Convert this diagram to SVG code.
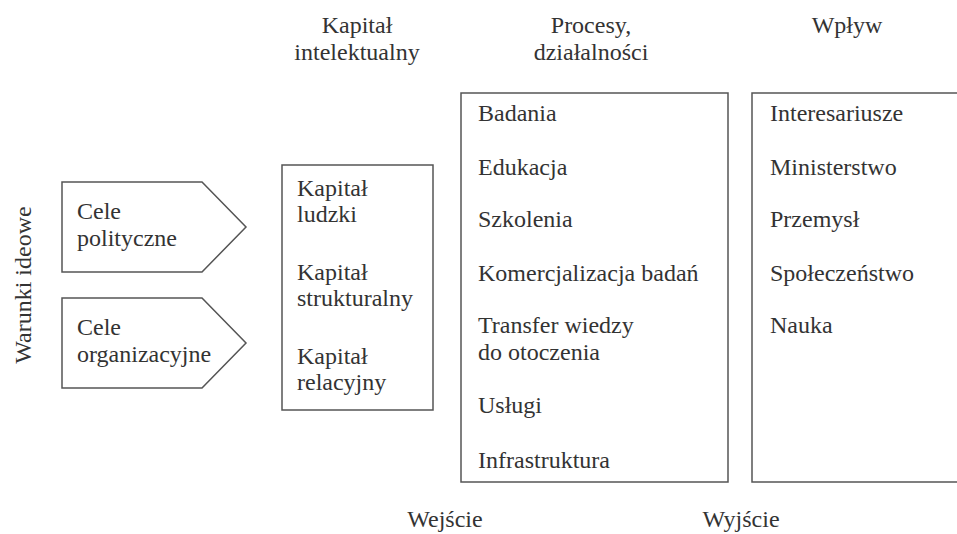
<svg xmlns="http://www.w3.org/2000/svg" width="957" height="534" viewBox="0 0 957 534">
<style>
  text { font-family: "Liberation Serif", "Times New Roman", serif; font-size: 24px; fill: #333; }
  .c { text-anchor: middle; }
  .shape { fill: #fff; stroke: #555; stroke-width: 1.5; }
</style>
<rect width="957" height="534" fill="#fff"/>
<g id="label-kapital-intelektualny">
  <text class="c" x="357" y="33">Kapitał</text>
  <text class="c" x="357" y="60">intelektualny</text>
</g>
<g id="label-procesy">
  <text class="c" x="591" y="33">Procesy,</text>
  <text class="c" x="591" y="60">działalności</text>
</g>
<g id="label-wplyw">
  <text class="c" x="847" y="33">Wpływ</text>
</g>
<g id="label-warunki">
  <text class="c" transform="translate(31,285) rotate(-90)">Warunki ideowe</text>
</g>
<g id="cele-polityczne">
  <polygon class="shape" points="62,182 202,182 246,227 202,272 62,272"/>
  <text x="77" y="219">Cele</text>
  <text x="77" y="246">polityczne</text>
</g>
<g id="cele-organizacyjne">
  <polygon class="shape" points="62,298 202,298 246,343 202,388 62,388"/>
  <text x="77" y="335">Cele</text>
  <text x="77" y="362">organizacyjne</text>
</g>
<g id="kapital">
  <rect class="shape" x="282" y="165" width="151" height="245"/>
  <text x="297" y="196">Kapitał</text>
  <text x="297" y="222">ludzki</text>
  <text x="297" y="280">Kapitał</text>
  <text x="297" y="306">strukturalny</text>
  <text x="297" y="364">Kapitał</text>
  <text x="297" y="390">relacyjny</text>
</g>
<g id="procesy">
  <rect class="shape" x="461" y="93" width="267" height="389"/>
  <text x="478" y="121">Badania</text>
  <text x="478" y="175">Edukacja</text>
  <text x="478" y="227">Szkolenia</text>
  <text x="478" y="281">Komercjalizacja badań</text>
  <text x="478" y="333">Transfer wiedzy</text>
  <text x="478" y="360">do otoczenia</text>
  <text x="478" y="413">Usługi</text>
  <text x="478" y="468">Infrastruktura</text>
</g>
<g id="wplyw">
  <rect class="shape" x="752" y="93" width="230" height="389"/>
  <text x="770" y="121">Interesariusze</text>
  <text x="770" y="175">Ministerstwo</text>
  <text x="770" y="227">Przemysł</text>
  <text x="770" y="281">Społeczeństwo</text>
  <text x="770" y="333">Nauka</text>
</g>
<g id="label-wejscie">
  <text class="c" x="445" y="527">Wejście</text>
</g>
<g id="label-wyjscie">
  <text class="c" x="741" y="527">Wyjście</text>
</g>
<g id="connectors"></g>
</svg>
